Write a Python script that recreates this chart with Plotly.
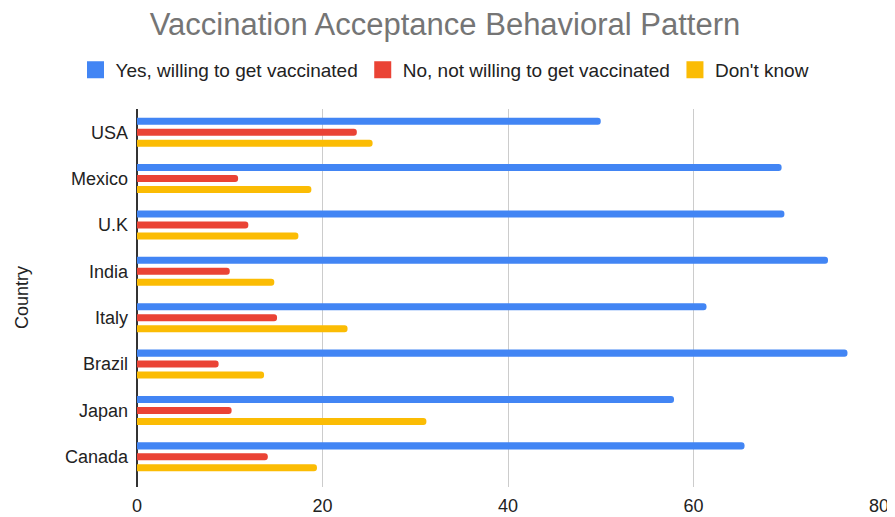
import plotly.graph_objects as go

countries = ["USA", "Mexico", "U.K", "India", "Italy", "Brazil", "Japan", "Canada"]
yes_vals = [50, 69.5, 69.8, 74.5, 61.4, 76.6, 57.9, 65.5]
no_vals = [23.7, 10.9, 12.0, 10.0, 15.1, 8.8, 10.2, 14.1]
dk_vals = [25.4, 18.8, 17.4, 14.8, 22.7, 13.7, 31.2, 19.4]
x_ticks = [0, 20, 40, 60, 80]

series = [
    ("Yes, willing to get vaccinated", yes_vals, "#4285F4"),
    ("No, not willing to get vaccinated", no_vals, "#EA4335"),
    ("Don't know", dk_vals, "#FBBC04"),
]

fig = go.Figure()
for name, vals, color in series:
    fig.add_trace(go.Bar(
        y=countries, x=vals, name=name, orientation="h", showlegend=False,
        legendgroup=name,
        marker=dict(color=color, cornerradius=4, line=dict(width=0)),
    ))
# legend-only entries with larger square swatches
for name, vals, color in series:
    fig.add_trace(go.Scatter(
        x=[None], y=[None], mode="markers", name=name, legendgroup=name,
        marker=dict(symbol="square", size=15, color=color,
                    line=dict(color=color, width=2)),
    ))

# page body has an 8px margin: figure coordinates are window coordinates minus 8
OFF = 8
W, H = 895 - OFF, 517 - OFF
L, R, T, B = 137 - OFF, 16, 109 - OFF, 30
fig.update_layout(
    width=W, height=H,
    margin=dict(l=L, r=R, t=T, b=B, autoexpand=False),
    paper_bgcolor="white", plot_bgcolor="white",
    font=dict(family="Liberation Sans, Arial, sans-serif", size=18, color="#222222"),
    title=dict(text="Vaccination Acceptance Behavioral Pattern",
               x=(445 - OFF) / W, xanchor="center",
               y=1 - (24 - OFF) / H, yanchor="middle",
               font=dict(size=31, color="#757575")),
    barmode="group", bargap=0.29, bargroupgap=0.36,
    legend=dict(orientation="h", x=(445 - OFF) / W, xanchor="center", xref="container",
                y=1 - (70 - OFF) / H, yanchor="middle", yref="container",
                font=dict(size=19, color="#222222"), traceorder="normal",
                itemwidth=30),
    showlegend=True,
)
fig.update_xaxes(range=[0, 80], tickvals=x_ticks, showgrid=True, gridcolor="#cccccc",
                 gridwidth=1, zeroline=True, zerolinecolor="#333333", zerolinewidth=2,
                 showline=False, ticks="", automargin=False, ticklabelstandoff=6,
                 tickfont=dict(size=18, color="#222222"))
fig.update_yaxes(range=[7.65, -0.5], showgrid=False, ticks="", showline=False,
                 automargin=False, ticklabelstandoff=8,
                 tickfont=dict(size=18, color="#222222"))
fig.add_annotation(text="Country", textangle=-90, xref="paper", yref="paper",
                   x=-(L - (22 - OFF)) / (W - L - R), xanchor="center", y=0.5,
                   showarrow=False, font=dict(size=18, color="#222222"))

fig.write_html("out.html")
